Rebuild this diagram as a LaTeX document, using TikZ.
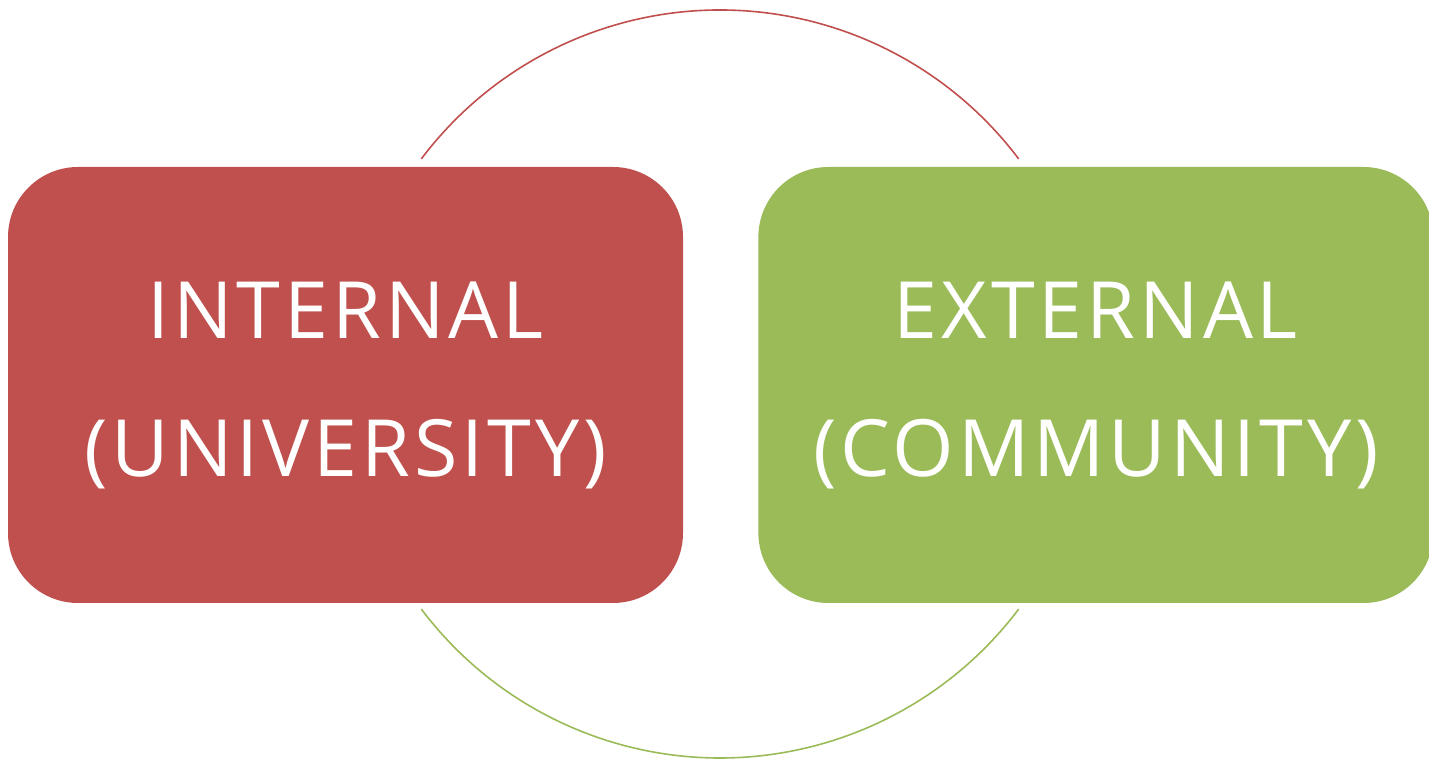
\documentclass[tikz,border=0pt]{standalone}
\usepackage{fontspec}
\setmainfont{Open Sans}
\newfontfamily\boxfont{Open Sans}[LetterSpace=5]
\usepackage{tikz}
\usetikzlibrary{positioning}

\definecolor{boxred}{HTML}{C0504D}
\definecolor{boxgreen}{HTML}{9BBB59}

\begin{document}
\begin{tikzpicture}[
x=1pt, y=1pt,
sidebox/.style={rectangle, rounded corners=70pt, minimum width=675pt, minimum height=436pt, text=white, align=center, font=\boxfont\fontsize{79}{138}\selectfont, inner sep=0pt},
redbox/.style={sidebox, fill=boxred},
greenbox/.style={sidebox, fill=boxgreen},
ring/.style={line width=1.6pt},
]
    \useasboundingbox (0,0) rectangle (1429,762);
    \coordinate (centre) at (720,378);

    \node[redbox]       (internal)   at (345.5,377)                {INTERNAL\\(UNIVERSITY)};
    \node[greenbox]     (external)   [right=75pt of internal]      {EXTERNAL\\(COMMUNITY)};

    % the ring around both boxes
    \draw[ring, boxred]   ([shift={(143:374)}]centre) arc[start angle=143, end angle=37, radius=374];
    \draw[ring, boxgreen] ([shift={(217:374)}]centre) arc[start angle=217, end angle=323, radius=374];
\end{tikzpicture}
\end{document}
